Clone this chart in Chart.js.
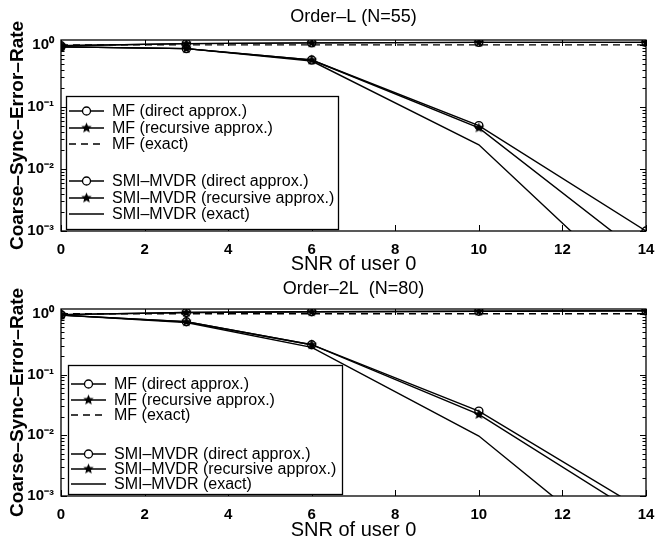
<!DOCTYPE html>
<html><head><meta charset="utf-8">
<script src="https://cdn.jsdelivr.net/npm/chart.js@4.4.1/dist/chart.umd.min.js"></script>
<style>
html,body{margin:0;padding:0;background:#fff;overflow:hidden;width:657px;height:539px;}
.wrap{position:absolute;left:0;width:657px;}
#w1{top:0;height:272px;}
#w2{top:270px;height:268px;}
</style></head><body>
<div class="wrap" id="w1"><canvas id="c1" width="657" height="272"></canvas></div>
<div class="wrap" id="w2"><canvas id="c2" width="657" height="268"></canvas></div>
<script>
// ---------- data ----------
const snr = [0, 3, 6, 10, 14];
const xTickValues = [0, 2, 4, 6, 8, 10, 12, 14];
const yTickValues = [0.001, 0.01, 0.1, 1];
const yTickLabels = ['10⁻³', '10⁻²', '10⁻¹', '10⁰'];
const legendLabels = [
  'MF (direct approx.)',
  'MF (recursive approx.)',
  'MF (exact)',
  'SMI–MVDR (direct approx.)',
  'SMI–MVDR (recursive approx.)',
  'SMI–MVDR (exact)'
];
const titleL = 'Order–L (N=55)';
const title2L = 'Order–2L  (N=80)';
const xTitle = 'SNR of user 0';
const yTitle = 'Coarse–Sync–Error–Rate';

// Order-L (N=55)
const L_mfDirect      = [0.97, 1.05, 1.08, 1.10, 1.10];
const L_mfRecursive   = [0.97, 1.05, 1.08, 1.10, 1.10];
const L_mfExact       = [1.00, 1.00, 1.00, 1.00, 1.00];
const L_smiDirect     = [0.93, 0.87, 0.57, 0.050, 0.0010];
const L_smiRecursive  = [0.93, 0.87, 0.57, 0.046, 0.00037];
const L_smiExact      = [0.93, 0.87, 0.55, 0.0245, 0.000073];

// Order-2L (N=80)
const L2_mfDirect     = [0.97, 1.05, 1.08, 1.10, 1.12];
const L2_mfRecursive  = [0.97, 1.05, 1.08, 1.10, 1.12];
const L2_mfExact      = [1.00, 1.00, 1.00, 1.00, 1.00];
const L2_smiDirect    = [0.95, 0.74, 0.31, 0.025, 0.00055];
const L2_smiRecursive = [0.95, 0.74, 0.31, 0.022, 0.00041];
const L2_smiExact     = [0.95, 0.72, 0.28, 0.0097, 0.000056];

// ---------- styling helpers ----------
const FONT = "'Liberation Sans', Arial, Helvetica, sans-serif";

function starPath(g, r) {
  g.beginPath();
  for (let i = 0; i < 10; i++) {
    const a = -Math.PI / 2 + i * Math.PI / 5;
    const rr = i % 2 ? r * 0.45 : r;
    g.lineTo(Math.cos(a) * rr, Math.sin(a) * rr);
  }
  g.closePath();
}
function makeStar(r) {
  const c = document.createElement('canvas');
  const s = Math.ceil(r * 2 + 2);
  c.width = s; c.height = s;
  const g = c.getContext('2d');
  g.translate(s / 2, s / 2);
  starPath(g, r);
  g.fillStyle = '#000';
  g.fill();
  return c;
}
const starImg = makeStar(5.5);

function pts(arr) { return snr.map((x, i) => ({ x: x, y: arr[i] })); }

function ds(label, arr, kind) {
  const base = {
    label: label, data: pts(arr), borderColor: '#000', borderWidth: 1.4,
    tension: 0, fill: false, pointRadius: 0, pointHoverRadius: 0, xAxisID: 'x', yAxisID: 'y'
  };
  if (kind === 'circle') {
    Object.assign(base, { pointStyle: 'circle', pointRadius: 4, pointBorderWidth: 1.4,
      pointBorderColor: '#000', pointBackgroundColor: 'rgba(0,0,0,0)' });
  } else if (kind === 'star') {
    Object.assign(base, { pointStyle: starImg, pointRadius: 5 });
  } else if (kind === 'dash') {
    Object.assign(base, { borderDash: [7, 5] });
  }
  return base;
}

// frame + inward ticks
const framePlugin = {
  id: 'frameTicks',
  beforeDatasetsDraw(chart) {
    const { ctx, chartArea: a, scales: { x, y } } = chart;
    ctx.save();
    ctx.strokeStyle = '#000';
    ctx.lineWidth = 1.3;
    ctx.strokeRect(a.left, a.top, a.right - a.left, a.bottom - a.top);
    ctx.lineWidth = 1;
    ctx.beginPath();
    xTickValues.forEach(v => {
      const px = Math.round(x.getPixelForValue(v)) + 0.5;
      ctx.moveTo(px, a.bottom); ctx.lineTo(px, a.bottom - 6);
      ctx.moveTo(px, a.top); ctx.lineTo(px, a.top + 6);
    });
    for (let e = -3; e <= 0; e++) {
      for (let m = 1; m <= 9; m++) {
        const v = m * Math.pow(10, e);
        if (v < y.min || v > y.max) continue;
        const py = Math.round(y.getPixelForValue(v)) + 0.5;
        const len = m === 1 ? 6 : 3.5;
        ctx.moveTo(a.left, py); ctx.lineTo(a.left + len, py);
        ctx.moveTo(a.right, py); ctx.lineTo(a.right - len, py);
      }
    }
    ctx.stroke();
    ctx.restore();
  }
};

// legend box drawn inside the plot
const boxLegendPlugin = {
  id: 'boxLegend',
  afterDatasetsDraw(chart, args, opts) {
    const { ctx } = chart;
    const b = opts.box;
    ctx.save();
    ctx.fillStyle = '#fff';
    ctx.fillRect(b.x, b.y, b.w, b.h);
    ctx.strokeStyle = '#000';
    ctx.lineWidth = 1.3;
    ctx.strokeRect(b.x + 0.5, b.y + 0.5, b.w, b.h);
    ctx.font = '16px ' + FONT;
    ctx.textBaseline = 'middle';
    ctx.textAlign = 'left';
    chart.data.datasets.forEach((d, i) => {
      const yy = b.y + opts.rows[i];
      const x0 = b.x + opts.lx0, x1 = b.x + opts.lx1;
      ctx.strokeStyle = '#000';
      ctx.lineWidth = 1.4;
      ctx.setLineDash(d.borderDash || []);
      ctx.beginPath(); ctx.moveTo(x0, yy); ctx.lineTo(x1, yy); ctx.stroke();
      ctx.setLineDash([]);
      const cx = (x0 + x1) / 2;
      if (d.pointStyle === 'circle') {
        ctx.fillStyle = '#fff';
        ctx.beginPath(); ctx.arc(cx, yy, 4, 0, Math.PI * 2); ctx.fill();
        ctx.lineWidth = 1.3; ctx.stroke();
      } else if (d.pointStyle === starImg) {
        ctx.drawImage(starImg, cx - starImg.width / 2, yy - starImg.height / 2);
      }
      ctx.fillStyle = '#000';
      ctx.fillText(d.label, b.x + opts.tx, yy + 1);
    });
    ctx.restore();
  }
};

function makeChart(id, title, topH, titleTop, xh, sets, legendBox, rows) {
  return new Chart(document.getElementById(id), {
    type: 'line',
    data: { datasets: [
      ds(legendLabels[0], sets[0], 'circle'),
      ds(legendLabels[1], sets[1], 'star'),
      ds(legendLabels[2], sets[2], 'dash'),
      ds(legendLabels[3], sets[3], 'circle'),
      ds(legendLabels[4], sets[4], 'star'),
      ds(legendLabels[5], sets[5], 'plain')
    ] },
    options: {
      responsive: false, animation: false, devicePixelRatio: 1,
      layout: { padding: { left: 0, right: 2, top: 0, bottom: 0 } },
      plugins: {
        legend: { display: false },
        tooltip: { enabled: false },
        title: { display: false },
        boxLegend: { box: legendBox, rows: rows, lx0: 3, lx1: 38, tx: 46 }
      },
      scales: {
        x: {
          type: 'linear', min: 0, max: 14, position: 'bottom',
          afterBuildTicks: s => { s.ticks = xTickValues.map(v => ({ value: v })); },
          afterFit: s => { s.height = xh; s.paddingRight = 11; s.paddingLeft = 0; },
          grid: { display: false, drawTicks: false },
          border: { display: false },
          ticks: { padding: 10, color: '#000', autoSkip: false, maxRotation: 0,
            font: { family: FONT, size: 15, weight: 'bold' } },
          title: { display: true, text: xTitle, color: '#000',
            font: { family: FONT, size: 20, lineHeight: 0.8 }, padding: { top: 0, bottom: 0 } }
        },
        x2: {
          type: 'linear', min: 0, max: 14, position: 'top',
          afterFit: s => { s.height = topH; s.paddingRight = 11; s.paddingLeft = 0; },
          grid: { display: false, drawTicks: false },
          border: { display: false },
          ticks: { display: false },
          title: { display: true, text: title, color: '#000',
            font: { family: FONT, size: 18, weight: 'normal', lineHeight: 1 },
            padding: { top: titleTop, bottom: 0 } }
        },
        y: {
          type: 'logarithmic', min: 0.001, max: 1.2,
          afterBuildTicks: s => { s.ticks = yTickValues.map(v => ({ value: v })); },
          afterFit: s => { s.width = 61; },
          grid: { display: false, drawTicks: false },
          border: { display: false },
          ticks: { padding: 7, color: '#000',
            font: { family: FONT, size: 15, weight: 'bold' },
            callback: (v) => {
              const i = yTickValues.findIndex(t => Math.abs(t - v) / t < 1e-6);
              return i >= 0 ? yTickLabels[i] : '';
            } },
          title: { display: true, text: yTitle, color: '#000',
            font: { family: FONT, size: 19, weight: 'bold', lineHeight: 1.2 },
            padding: { top: 6, bottom: 0 } }
        }
      }
    },
    plugins: [framePlugin, boxLegendPlugin]
  });
}

makeChart('c1', titleL, 40, 8, 41,
  [L_mfDirect, L_mfRecursive, L_mfExact, L_smiDirect, L_smiRecursive, L_smiExact],
  { x: 66, y: 96, w: 272, h: 133 }, [15, 32, 48, 85, 102, 118]);

makeChart('c2', title2L, 39, 10, 42,
  [L2_mfDirect, L2_mfRecursive, L2_mfExact, L2_smiDirect, L2_smiRecursive, L2_smiExact],
  { x: 68, y: 95, w: 274, h: 129 }, [19, 35, 50, 89, 104, 119]);
</script>
</body></html>
